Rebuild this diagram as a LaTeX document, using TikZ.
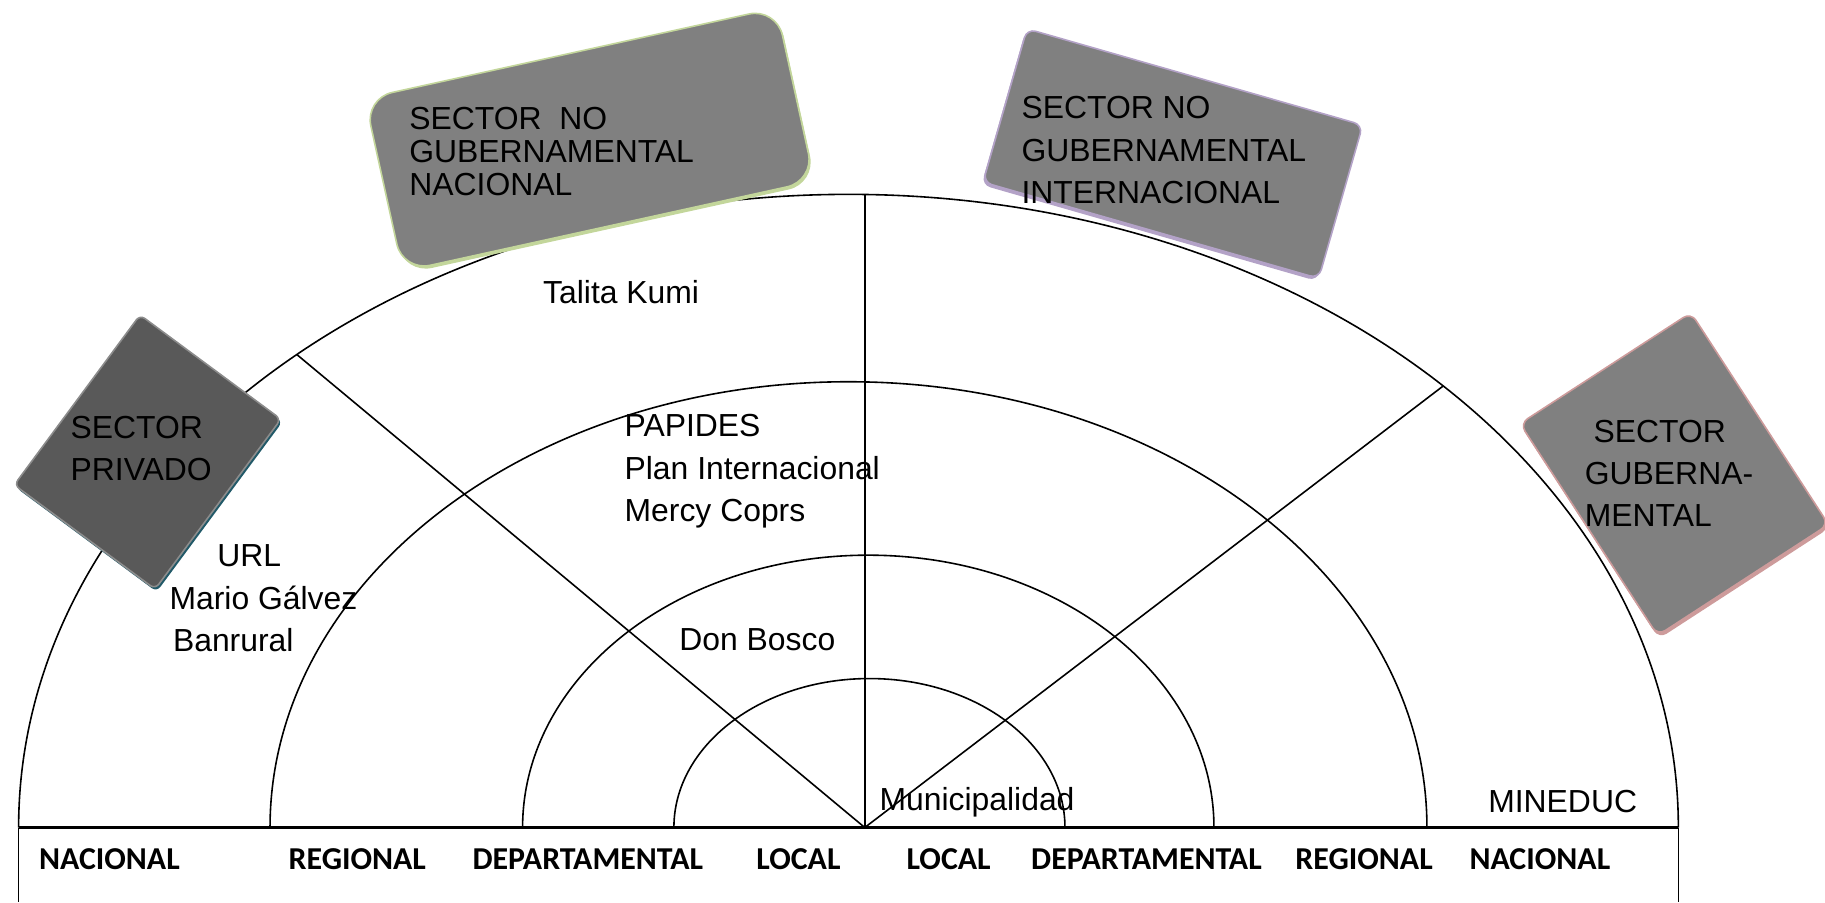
\documentclass[tikz,border=0pt]{standalone}
\usepackage{fontspec}
\setmainfont{Liberation Sans}
\newfontfamily\calibri{Carlito}
\usetikzlibrary{positioning,shadows}
\definecolor{darkgrey}{RGB}{89,89,89}
\definecolor{midgrey}{RGB}{128,128,128}
\definecolor{edgeteal}{RGB}{33,89,104}
\definecolor{edgegreen}{RGB}{195,214,155}
\definecolor{edgelilac}{RGB}{179,162,199}
\definecolor{edgerose}{RGB}{205,155,155}

\begin{document}
\begin{tikzpicture}[x=0.0154cm, y=0.0154cm, semithick,
  sector/.style={rectangle, fill=midgrey, inner sep=0pt},
  level/.style={font=\fontsize{12}{14}\calibri\bfseries, inner sep=0pt},
  actor/.style={anchor=west, inner sep=0pt, align=left, font=\fontsize{12}{16}\selectfont}]
\useasboundingbox (0,0) rectangle (1568,775);
\coordinate (O) at (743,64);
\coordinate (N1) at (16,64);
\coordinate (N2) at (1442,64);
\coordinate (R1) at (232,64);
\coordinate (D1) at (449,64);
\coordinate (L1) at (579,64);
\coordinate (F1) at (16,0);
\coordinate (F2) at (1442,0);
\coordinate (T) at (743,608);
\coordinate (DL) at (255,470.4);
\coordinate (DR) at (1240,443.4);
\node [sector, rotate=33, rounded corners=0.12cm, minimum width=2.695cm, minimum height=3.342cm,
  draw=edgerose, drop shadow={shadow xshift=0.5pt, shadow yshift=-1.2pt, fill=edgerose, opacity=1}] (GOB) at (1438.5,367.7) {};
\draw (N1) arc[start angle=180, end angle=0, x radius=713, y radius=544];
\draw (R1) arc[start angle=180, end angle=0, x radius=497, y radius=383];
\draw (D1) arc[start angle=180, end angle=0, x radius=297, y radius=234];
\draw (L1) arc[start angle=180, end angle=0, x radius=168, y radius=128];
\draw (O) -- (T);
\draw (O) -- (DL);
\draw (O) -- (DR);
\draw [thick] (N1) -- (N2);
\draw (N1) -- (F1);
\draw (N2) -- (F2);
\node [sector, fill=darkgrey, rotate=-36.5, rounded corners=0.08cm, minimum width=2.318cm, minimum height=2.797cm,
  draw=gray!90, drop shadow={shadow xshift=0.6pt, shadow yshift=-1pt, fill=edgeteal, opacity=1}] (PRIV) at (126.8,386.6) {};
\node [sector, rotate=12.4, rounded corners=0.37cm, minimum width=5.575cm, minimum height=2.341cm,
  draw=edgegreen, drop shadow={shadow xshift=0.6pt, shadow yshift=-1pt, fill=edgegreen, opacity=1}] (NGN) at (506.6,655) {};
\node [sector, rotate=-16, rounded corners=0.12cm, minimum width=4.62cm, minimum height=2.11cm,
  draw=edgelilac, drop shadow={shadow xshift=-0.6pt, shadow yshift=-1pt, fill=edgelilac, opacity=1}] (NGI) at (1007.7,643) {};
\node [actor, font=\fontsize{12}{15.8}\selectfont] (tPRIV) at (60,390) {SECTOR\\PRIVADO};
\node [actor, font=\fontsize{12}{12.5}\selectfont] (tNGN) at (351,645) {SECTOR\ \ NO\\GUBERNAMENTAL\\NACIONAL};
\node [actor] (tNGI) at (877,646) {SECTOR NO\\GUBERNAMENTAL\\INTERNACIONAL};
\node [actor, font=\fontsize{12}{15.8}\selectfont] (tGOB) at (1361,368) {\hspace*{3.3pt}SECTOR\\GUBERNA-\\MENTAL};
\node [actor] (talita) at (466,524) {Talita Kumi};
\node [actor] (papides) at (536,370) {PAPIDES\\Plan Internacional\\Mercy Coprs};
\node [actor] (url) at (145,261) {\hspace*{18pt}URL\\Mario Gálvez\\\hspace*{1.3pt}Banrural};
\node [actor] (bosco) at (583,225) {Don Bosco};
\node [actor] (muni) at (755,86) {Municipalidad};
\node [actor] (mineduc) at (1278,86) {MINEDUC};
\node [level] (nac1) at (94,37) {NACIONAL};
\node [level] (reg1) at (307,37) {REGIONAL};
\node [level] (dep1) at (505,37) {DEPARTAMENTAL};
\node [level] (loc1) at (686,37) {LOCAL};
\node [level] (loc2) at (815,37) {LOCAL};
\node [level] (dep2) at (985,37) {DEPARTAMENTAL};
\node [level] (reg2) at (1172,37) {REGIONAL};
\node [level] (nac2) at (1323,37) {NACIONAL};
\end{tikzpicture}
\end{document}
